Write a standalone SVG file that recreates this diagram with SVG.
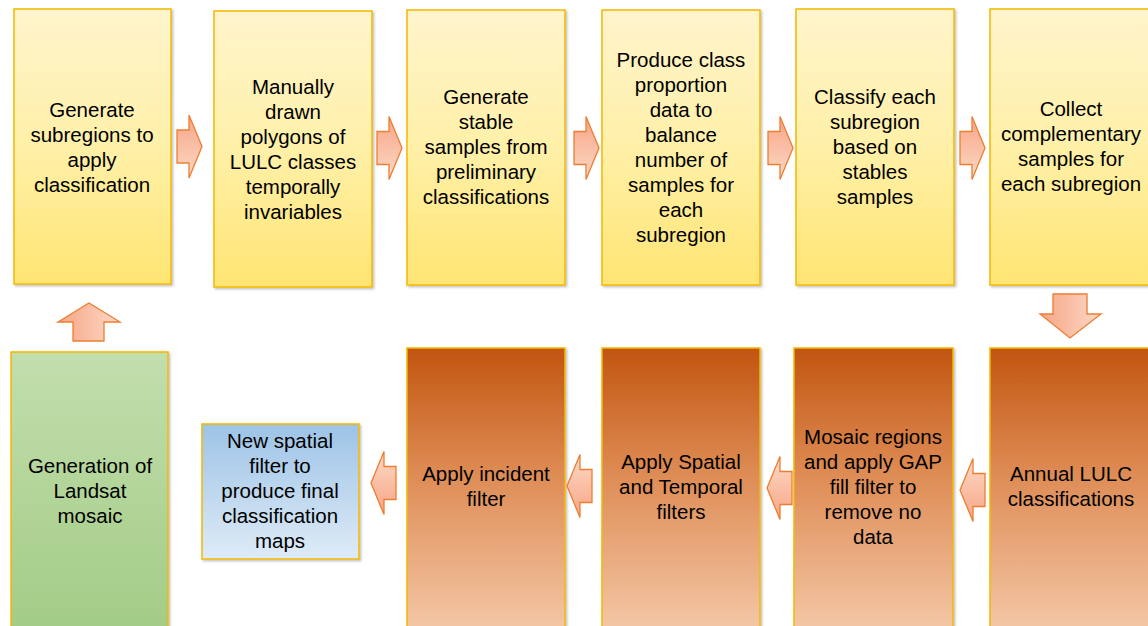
<svg xmlns="http://www.w3.org/2000/svg" width="1148" height="626" viewBox="0 0 1148 626">
<defs>
<linearGradient id="gY" x1="0" y1="0" x2="0" y2="1"><stop offset="0" stop-color="#FFF4CC"/><stop offset="0.5" stop-color="#FFF0A8"/><stop offset="1" stop-color="#FFE573"/></linearGradient>
<linearGradient id="gO" x1="0" y1="0" x2="0" y2="1"><stop offset="0" stop-color="#C25510"/><stop offset="0.45" stop-color="#DE8C55"/><stop offset="1" stop-color="#F4C7A6"/></linearGradient>
<linearGradient id="gG" x1="0" y1="0" x2="0" y2="1"><stop offset="0" stop-color="#C2DEAD"/><stop offset="1" stop-color="#A3CC86"/></linearGradient>
<linearGradient id="gB" x1="0" y1="0" x2="0" y2="1"><stop offset="0" stop-color="#9DC3E6"/><stop offset="1" stop-color="#DEEBF7"/></linearGradient>
<linearGradient id="gA" x1="0" y1="0" x2="0" y2="1"><stop offset="0" stop-color="#F7A585"/><stop offset="1" stop-color="#FCD9C6"/></linearGradient>
<linearGradient id="gAh" x1="0" y1="0" x2="1" y2="0"><stop offset="0" stop-color="#F7A585"/><stop offset="1" stop-color="#FCD9C6"/></linearGradient>
<filter id="sh" x="-10%" y="-10%" width="120%" height="120%"><feDropShadow dx="1.5" dy="1.5" stdDeviation="1.2" flood-color="#000" flood-opacity="0.25"/></filter>
<path id="ar" d="M0,-16.5 L12,-16.5 L12,-31.5 L25,0 L12,31.5 L12,16.5 L0,16.5 Z"/>
</defs>
<style>
.box{stroke:#F5B800;stroke-width:1.5;filter:url(#sh)}
.y{fill:url(#gY)} .o{fill:url(#gO)} .g{fill:url(#gG)} .b{fill:url(#gB)}
.arr{fill:url(#gA);stroke:#ED7D31;stroke-width:1.3}
.arrv{fill:url(#gAh);stroke:#ED7D31;stroke-width:1.3}
text{font-family:"Liberation Sans",Arial,sans-serif;font-size:20.5px;fill:#000;text-anchor:middle}
</style>
<rect width="1148" height="626" fill="#fff"/>

<g id="n1"><rect class="box y" x="14" y="9" width="157" height="275"/>
<text x="92"><tspan x="92" y="117">Generate</tspan><tspan x="92" y="142">subregions to</tspan><tspan x="92" y="167">apply</tspan><tspan x="92" y="192">classification</tspan></text></g>

<g id="n2"><rect class="box y" x="214" y="11" width="158" height="276"/>
<text><tspan x="293" y="94">Manually</tspan><tspan x="293" y="119">drawn</tspan><tspan x="293" y="144">polygons of</tspan><tspan x="293" y="169">LULC classes</tspan><tspan x="293" y="194">temporally</tspan><tspan x="293" y="219">invariables</tspan></text></g>

<g id="n3"><rect class="box y" x="407" y="10" width="158" height="275"/>
<text><tspan x="486" y="104">Generate</tspan><tspan x="486" y="129">stable</tspan><tspan x="486" y="154">samples from</tspan><tspan x="486" y="179">preliminary</tspan><tspan x="486" y="204">classifications</tspan></text></g>

<g id="n4"><rect class="box y" x="602" y="10" width="158" height="275"/>
<text><tspan x="681" y="67">Produce class</tspan><tspan x="681" y="92">proportion</tspan><tspan x="681" y="117">data to</tspan><tspan x="681" y="142">balance</tspan><tspan x="681" y="167">number of</tspan><tspan x="681" y="192">samples for</tspan><tspan x="681" y="217">each</tspan><tspan x="681" y="242">subregion</tspan></text></g>

<g id="n5"><rect class="box y" x="796" y="9" width="158" height="276"/>
<text><tspan x="875" y="104">Classify each</tspan><tspan x="875" y="129">subregion</tspan><tspan x="875" y="154">based on</tspan><tspan x="875" y="179">stables</tspan><tspan x="875" y="204">samples</tspan></text></g>

<g id="n6"><rect class="box y" x="990" y="9" width="162" height="276"/>
<text><tspan x="1071" y="116">Collect</tspan><tspan x="1071" y="141">complementary</tspan><tspan x="1071" y="166">samples for</tspan><tspan x="1071" y="191">each subregion</tspan></text></g>

<g id="n7"><rect class="box o" x="990" y="348" width="162" height="282"/>
<text><tspan x="1071" y="481">Annual LULC</tspan><tspan x="1071" y="506">classifications</tspan></text></g>

<g id="n8"><rect class="box o" x="794" y="348" width="159" height="282"/>
<text><tspan x="873" y="444">Mosaic regions</tspan><tspan x="873" y="469">and apply GAP</tspan><tspan x="873" y="494">fill filter to</tspan><tspan x="873" y="519">remove no</tspan><tspan x="873" y="544">data</tspan></text></g>

<g id="n9"><rect class="box o" x="602" y="348" width="158" height="282"/>
<text><tspan x="681" y="469">Apply Spatial</tspan><tspan x="681" y="494">and Temporal</tspan><tspan x="681" y="519">filters</tspan></text></g>

<g id="n10"><rect class="box o" x="407" y="348" width="158" height="282"/>
<text><tspan x="486" y="481">Apply incident</tspan><tspan x="486" y="506">filter</tspan></text></g>

<g id="n11"><rect class="box b" x="202" y="424" width="157" height="135"/>
<text><tspan x="280" y="448">New spatial</tspan><tspan x="280" y="473">filter to</tspan><tspan x="280" y="498">produce final</tspan><tspan x="280" y="523">classification</tspan><tspan x="280" y="548">maps</tspan></text></g>

<g id="n12"><rect class="box g" x="11" y="352" width="157" height="280"/>
<text><tspan x="90" y="473">Generation of</tspan><tspan x="90" y="498">Landsat</tspan><tspan x="90" y="523">mosaic</tspan></text></g>

<g id="connectors">
<use href="#ar" class="arr" transform="translate(177,146.5)"/>
<use href="#ar" class="arr" transform="translate(377,148)"/>
<use href="#ar" class="arr" transform="translate(574,148)"/>
<use href="#ar" class="arr" transform="translate(768,148)"/>
<use href="#ar" class="arr" transform="translate(960,148)"/>
<path class="arrv" d="M1053,294 L1087,294 L1087,314 L1101,314 L1070,338 L1040,314 L1053,314 Z"/>
<use href="#ar" class="arr" transform="translate(985,490) rotate(180)"/>
<use href="#ar" class="arr" transform="translate(792,488) rotate(180)"/>
<use href="#ar" class="arr" transform="translate(592,486) rotate(180)"/>
<use href="#ar" class="arr" transform="translate(396,483) rotate(180)"/>
<path class="arrv" d="M73,341 L104,341 L104,322 L120,322 L89,303 L58,322 L73,322 Z"/>
</g>
</svg>
